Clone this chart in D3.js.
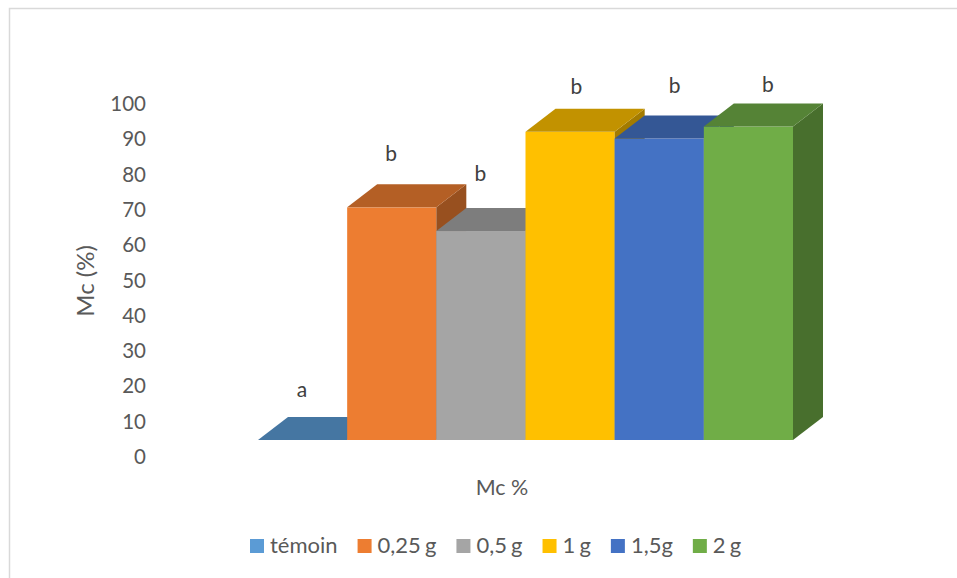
<!DOCTYPE html>
<html>
<head>
<meta charset="utf-8">
<script src="https://cdn.jsdelivr.net/npm/d3@7"></script>
<style>
  html, body { margin: 0; background: #fff; }
  svg { display: block; }
  text { font-family: Lato, "Open Sans", sans-serif; }
</style>
</head>
<body>
<svg id="chart" width="957" height="578"></svg>
<script>
// Values per treatment
const categories = ["témoin", "0,25 g", "0,5 g", "1 g", "1,5g", "2 g"];
const mcValues = [0, 65.9, 59.2, 87.3, 85.4, 88.8];
const letters = ["a", "b", "b", "b", "b", "b"];
const tickValues = [0, 10, 20, 30, 40, 50, 60, 70, 80, 90, 100];
const colors = ["#5B9BD5", "#ED7D31", "#A5A5A5", "#FFC000", "#4472C4", "#70AD47"];

const svg = d3.select("#chart");

const width = 957, height = 578;
// Depth of the 3D extrusion
const depthX = 30, depthY = 23;
const baseY = 440;

const x = d3.scaleBand().domain(categories).range([258, 793]).padding(0);
const y = d3.scaleLinear().domain([0, 100]).range([baseY, 87]);

// Shade a colour for the top and side faces
function shade(c, k) {
  const r = d3.rgb(c);
  return d3.rgb(r.r * k, r.g * k, r.b * k).formatHex();
}

// Chart frame, open on the right and at the bottom
svg.append("path")
  .attr("d", d3.line()([[width, 8.5], [9.5, 8.5], [9.5, height]]))
  .attr("fill", "none")
  .attr("stroke", "#D9D9D9")
  .attr("stroke-width", 1.5);

// Bars, left to right so that each one overlaps the previous side face
const bars = svg.append("g").selectAll("g")
  .data(categories)
  .enter()
  .append("g");

// Front face
bars.append("rect")
  .attr("x", d => x(d))
  .attr("y", (d, i) => y(mcValues[i]))
  .attr("width", x.bandwidth())
  .attr("height", (d, i) => baseY - y(mcValues[i]))
  .attr("fill", (d, i) => colors[i]);

// Side face
bars.append("polygon")
  .attr("points", (d, i) => {
    const x1 = x(d) + x.bandwidth(), t = y(mcValues[i]);
    return [[x1, t], [x1 + depthX, t - depthY], [x1 + depthX, baseY - depthY], [x1, baseY]].join(" ");
  })
  .attr("fill", (d, i) => shade(colors[i], 0.64));

// Top face
bars.append("polygon")
  .attr("points", (d, i) => {
    const x0 = x(d), x1 = x0 + x.bandwidth(), t = y(mcValues[i]);
    return [[x0, t], [x1, t], [x1 + depthX, t - depthY], [x0 + depthX, t - depthY]].join(" ");
  })
  .attr("fill", (d, i) => shade(colors[i], 0.76));

// Significance letters, placed by hand above each bar
const letterDx = [44, 44, 44, 51, 60, 64];
const letterDy = [-43, -46, -50, -38, -46, -35];
svg.append("g").selectAll("text")
  .data(letters)
  .enter()
  .append("text")
  .attr("x", (d, i) => x(categories[i]) + letterDx[i])
  .attr("y", (d, i) => y(mcValues[i]) + letterDy[i])
  .attr("text-anchor", "middle")
  .attr("font-size", 21)
  .attr("fill", "#404040")
  .text(d => d);

// Value axis sits below the bar base, labels only
const axis = svg.append("g")
  .attr("transform", "translate(146,17)")
  .call(d3.axisLeft(y).tickValues(tickValues).tickSize(0).tickPadding(0));
axis.select(".domain").remove();
axis.selectAll("text")
  .attr("font-size", 20.5)
  .attr("fill", "#595959")
  .style("font-family", "Lato, sans-serif");

svg.append("text")
  .attr("transform", "translate(94,281) rotate(-90)")
  .attr("text-anchor", "middle")
  .attr("font-size", 24)
  .attr("fill", "#595959")
  .text("Mc (%)");

svg.append("text")
  .attr("x", 502)
  .attr("y", 495)
  .attr("text-anchor", "middle")
  .attr("font-size", 21.5)
  .attr("fill", "#595959")
  .text("Mc %");

// Legend, laid out from the measured label widths
let legendX = 250;
const legend = svg.append("g");
categories.forEach((c, i) => {
  legend.append("rect")
    .attr("x", legendX)
    .attr("y", 539)
    .attr("width", 14)
    .attr("height", 14)
    .attr("fill", colors[i]);
  const label = legend.append("text")
    .attr("x", legendX + 20)
    .attr("y", 553)
    .attr("font-size", 22)
    .attr("word-spacing", -1.5)
    .attr("fill", "#595959")
    .text(c);
  legendX += 20 + label.node().getComputedTextLength() + 20;
});
</script>
</body>
</html>
